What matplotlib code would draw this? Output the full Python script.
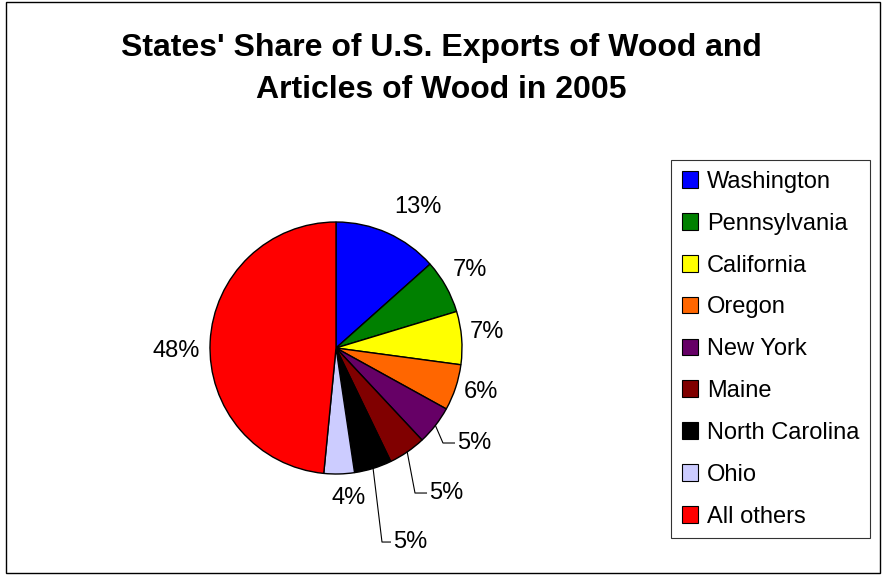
import matplotlib.pyplot as plt
import numpy as np
from matplotlib.patches import Rectangle, Patch

plt.rcParams['font.family'] = ['Liberation Sans', 'DejaVu Sans']

# data
states = ['Washington', 'Pennsylvania', 'California', 'Oregon', 'New York',
          'Maine', 'North Carolina', 'Ohio', 'All others']
shares = [13.4, 6.9, 6.8, 5.9, 5.0, 4.8, 4.8, 3.9, 48.4]
colors = ['#0000ff', '#008000', '#ffff00', '#ff6600', '#660066',
          '#800000', '#000000', '#ccccff', '#ff0000']
title = "States' Share of U.S. Exports of Wood and\nArticles of Wood in 2005"

# label placement (pie radius = 1), None -> leader line label
label_pos = [(0.65, 1.12), (1.06, 0.62), (1.20, 0.13), (1.15, -0.35),
             None, None, None, (0.10, -1.19), (-1.27, -0.02)]
leader = {4: (0.849, 0.960, -0.754), 5: (0.627, 0.738, -1.151),
          6: (0.365, 0.452, -1.540)}

W, H = 883, 575
fig = plt.figure(figsize=(W / 100, H / 100), dpi=100)
cx, cy, R = 336, H - 348, 126

ax = fig.add_axes([0, 0, 1, 1])
wedges, _ = ax.pie(shares, colors=colors, startangle=90, counterclock=False,
                   radius=1, wedgeprops=dict(edgecolor='black', linewidth=1.0))
ax.set_xlim(-cx / R, (W - cx) / R)
ax.set_ylim(-cy / R, (H - cy) / R)
ax.set_aspect('auto')
ax.axis('off')

tot = sum(shares)
cum = np.cumsum([0] + shares)
for i, v in enumerate(shares):
    txt = '%.0f%%' % (v / tot * 100)
    if label_pos[i] is not None:
        x, y = label_pos[i]
        ax.text(x, y, txt, ha='center', va='center', fontsize=17)
    else:
        mid = np.deg2rad(90 - (cum[i] + v / 2) / tot * 360)
        sx, sy = np.cos(mid), np.sin(mid)
        ex, lx, ly = leader[i]
        ax.plot([sx, ex, lx - 0.02], [sy, ly, ly], color='black', lw=0.8)
        ax.text(lx, ly, txt, ha='left', va='center', fontsize=17)

fig.text(0.5, 1 - 69 / H, title, ha='center', va='center', fontsize=23,
         fontweight='bold', linespacing=1.52)

# outer frame
fig.patches.append(Rectangle((6 / W, 2 / H), (880 - 6) / W, (573 - 2) / H,
                             transform=fig.transFigure, fill=False,
                             edgecolor='black', lw=1.0))

handles = [Patch(facecolor=c, edgecolor='black', lw=0.8) for c in colors]
leg = fig.legend(handles, states, loc='upper left',
                 bbox_to_anchor=(671 / W, 1 - 160 / H), fontsize=17,
                 frameon=True, fancybox=False, handlelength=0.7,
                 handleheight=0.7, handletextpad=0.35, labelspacing=0.84,
                 borderpad=0.46, borderaxespad=0)
leg.get_frame().set_edgecolor('black')
leg.get_frame().set_linewidth(0.8)

fig.savefig('out.png', dpi=100)
